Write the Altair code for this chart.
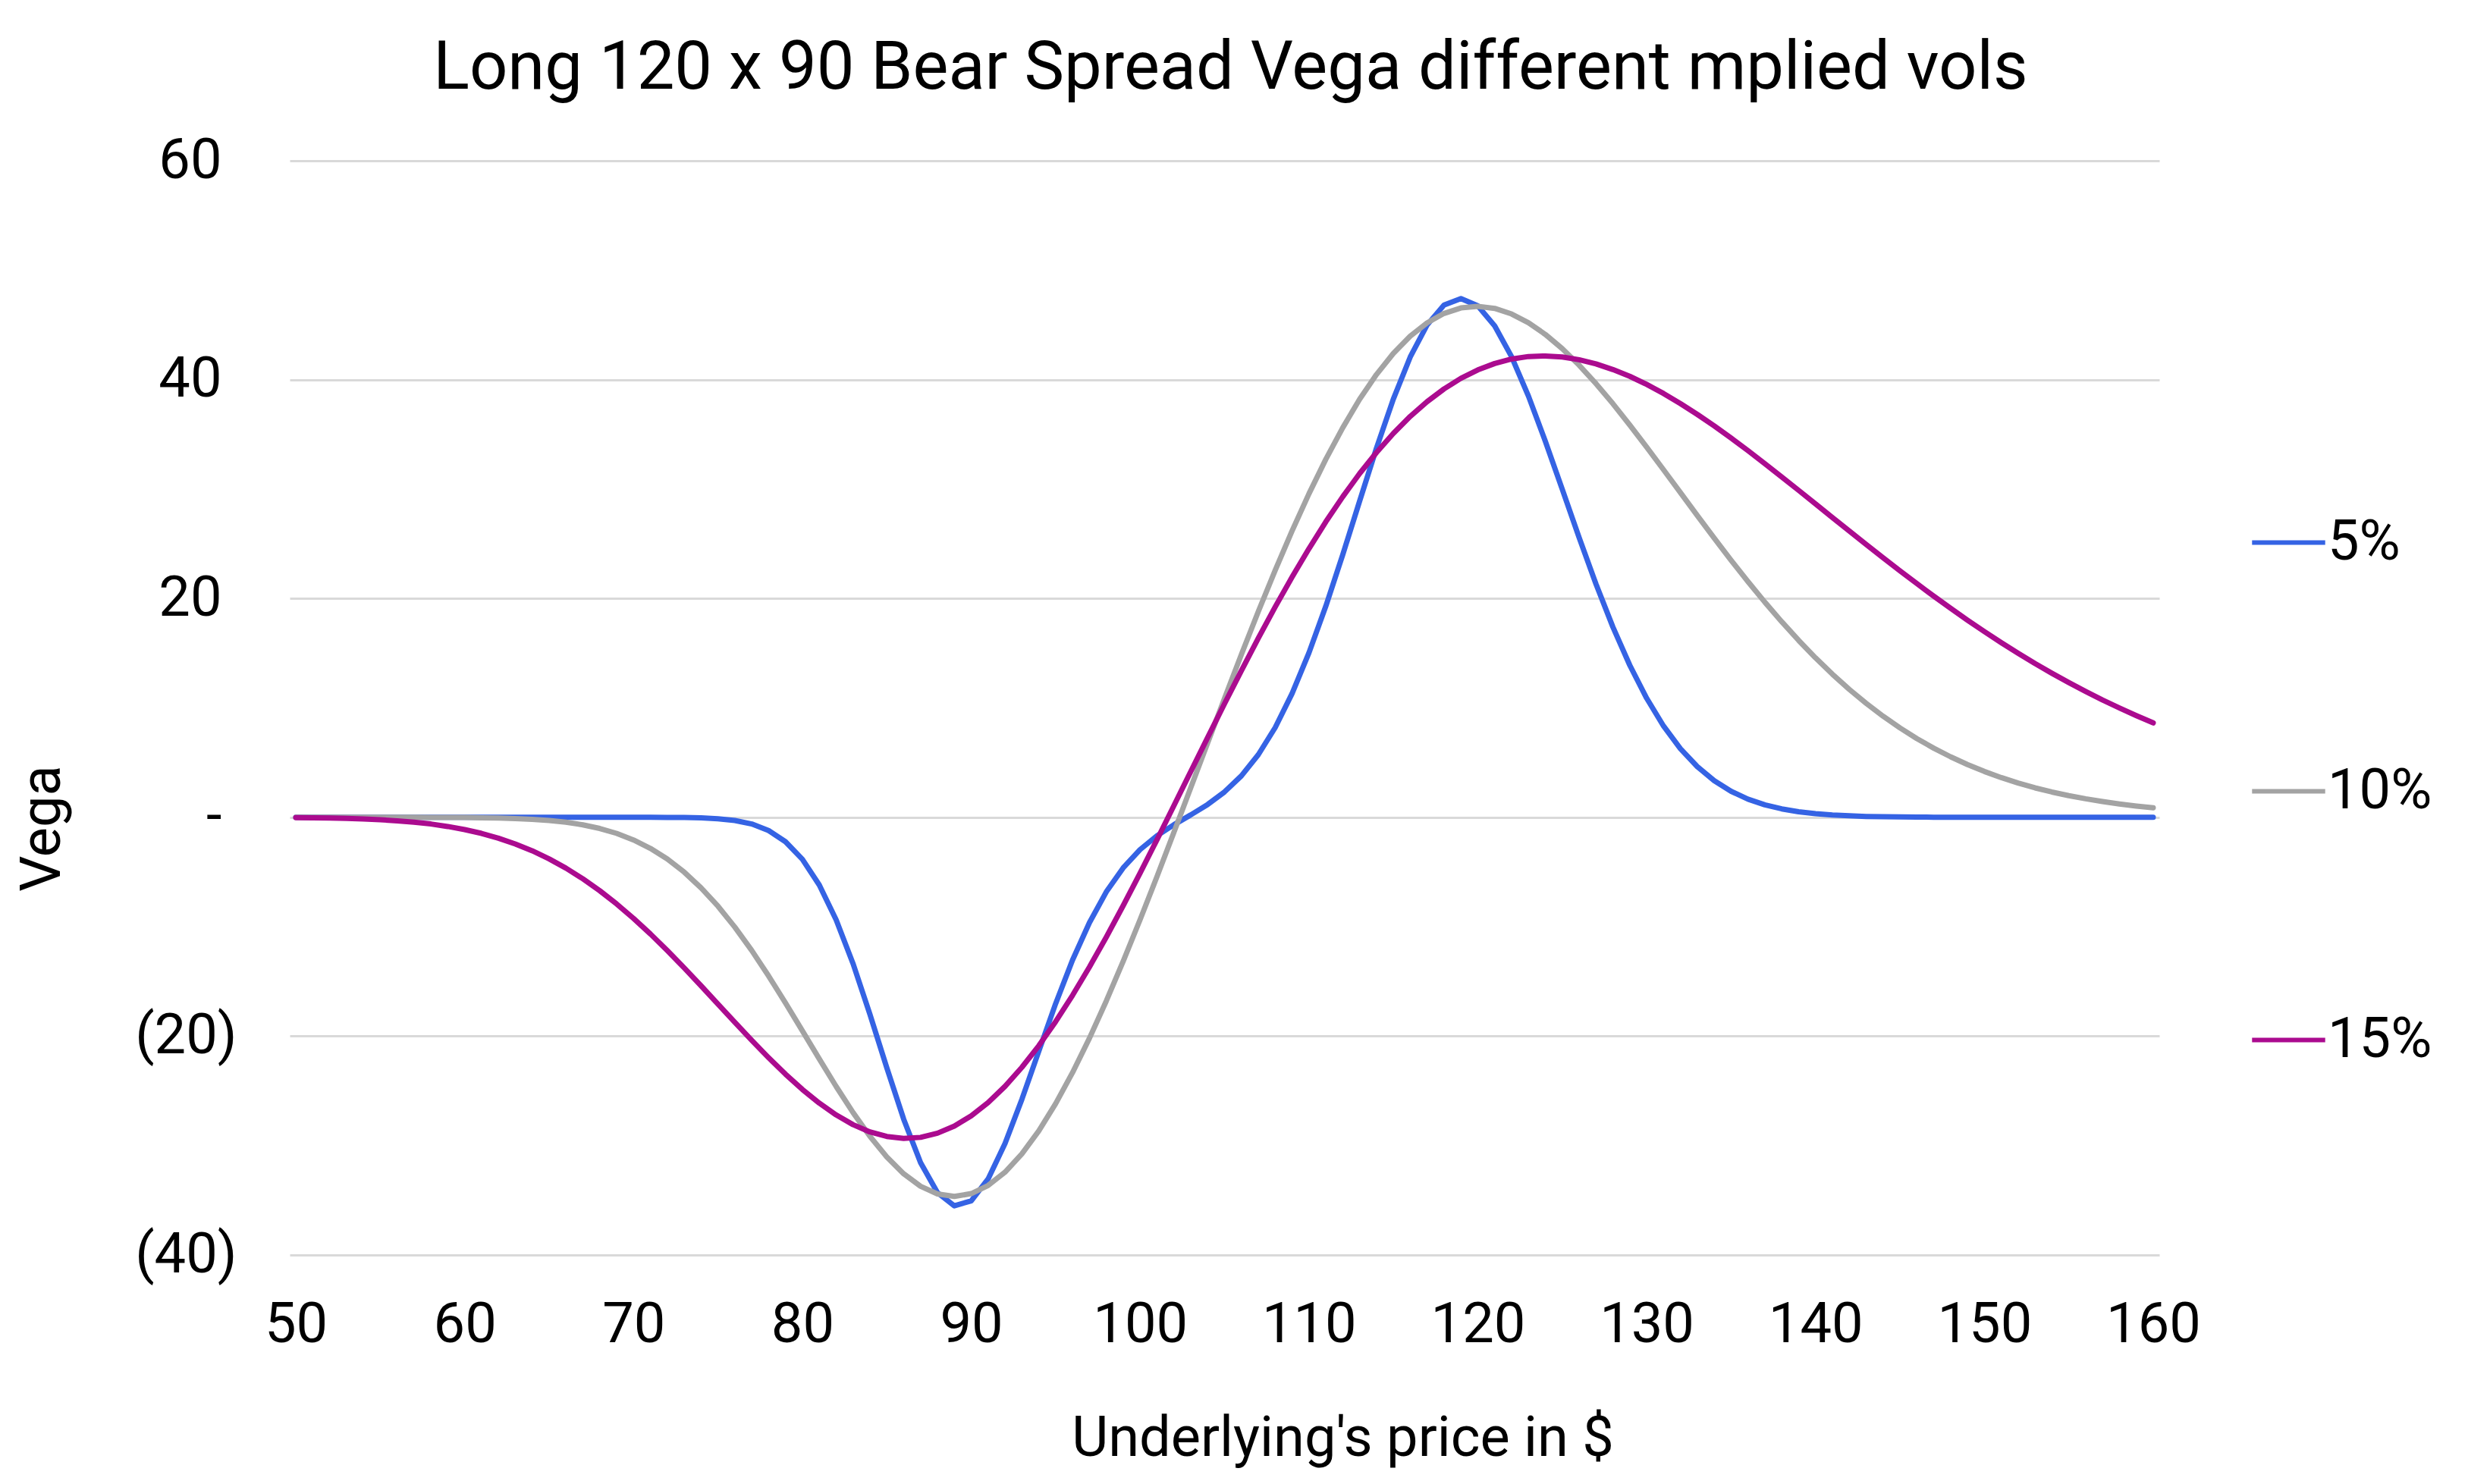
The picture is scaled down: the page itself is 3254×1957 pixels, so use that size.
import altair as alt
import pandas as pd

price = list(range(50, 161))

vega_5 = [
    0.0, 0.0, 0.0, 0.0, 0.0, 0.0, 0.0, 0.0, 0.0, 0.0,
    0.0, 0.0, 0.0, 0.0, 0.0, 0.0, 0.0, 0.0, 0.0, 0.0,
    0.0, 0.0, -0.01, -0.02, -0.05, -0.13, -0.29, -0.61, -1.21, -2.23,
    -3.83, -6.18, -9.37, -13.37, -18.00, -22.89, -27.59, -31.56, -34.30, -35.51,
    -35.05, -33.05, -29.82, -25.77, -21.38, -17.02, -13.04, -9.63, -6.81, -4.62,
    -2.95, -1.69, -0.68, 0.22, 1.17, 2.32, 3.79, 5.72, 8.20, 11.31,
    15.03, 19.30, 23.99, 28.89, 33.74, 38.23, 42.07, 45.00, 46.81, 47.40,
    46.74, 44.91, 42.09, 38.49, 34.36, 29.98, 25.56, 21.31, 17.39, 13.90,
    10.88, 8.34, 6.27, 4.63, 3.35, 2.38, 1.66, 1.14, 0.77, 0.51,
    0.33, 0.21, 0.14, 0.08, 0.05, 0.03, 0.02, 0.01, 0.0, 0.0,
    0.0, 0.0, 0.0, 0.0, 0.0, 0.0, 0.0, 0.0, 0.0, 0.0,
    0.0,
]

vega_10 = [
    0.0, 0.0, 0.0, 0.0, 0.0, 0.0, 0.0, 0.0, -0.01, -0.01,
    -0.02, -0.04, -0.06, -0.11, -0.18, -0.29, -0.45, -0.69, -1.02, -1.47,
    -2.07, -2.84, -3.81, -5.01, -6.45, -8.12, -10.04, -12.17, -14.50, -16.96,
    -19.51, -22.08, -24.60, -26.98, -29.15, -31.04, -32.58, -33.72, -34.42, -34.65,
    -34.39, -33.65, -32.43, -30.76, -28.66, -26.17, -23.33, -20.19, -16.78, -13.15,
    -9.35, -5.42, -1.39, 2.70, 6.80, 10.87, 14.88, 18.80, 22.57, 26.17,
    29.57, 32.72, 35.60, 38.20, 40.47, 42.40, 43.97, 45.19, 46.05, 46.55,
    46.69, 46.51, 46.00, 45.20, 44.13, 42.83, 41.32, 39.63, 37.80, 35.85,
    33.83, 31.76, 29.67, 27.58, 25.51, 23.49, 21.54, 19.66, 17.87, 16.17,
    14.57, 13.08, 11.69, 10.42, 9.24, 8.17, 7.19, 6.32, 5.53, 4.82,
    4.19, 3.63, 3.13, 2.69, 2.31, 1.98, 1.69, 1.44, 1.22, 1.03,
    0.87,
]

vega_15 = [
    -0.03, -0.04, -0.07, -0.10, -0.15, -0.22, -0.32, -0.44, -0.61, -0.84,
    -1.12, -1.47, -1.91, -2.44, -3.06, -3.80, -4.65, -5.62, -6.71, -7.92,
    -9.24, -10.66, -12.18, -13.76, -15.40, -17.07, -18.74, -20.38, -21.97, -23.48,
    -24.87, -26.12, -27.20, -28.09, -28.75, -29.17, -29.34, -29.25, -28.87, -28.22,
    -27.28, -26.07, -24.59, -22.85, -20.88, -18.67, -16.27, -13.68, -10.94, -8.07,
    -5.10, -2.05, 1.06, 4.18, 7.29, 10.38, 13.41, 16.37, 19.22, 21.95,
    24.55, 27.01, 29.29, 31.41, 33.34, 35.09, 36.64, 37.99, 39.15, 40.12,
    40.89, 41.47, 41.88, 42.11, 42.16, 42.07, 41.82, 41.44, 40.92, 40.30,
    39.56, 38.73, 37.81, 36.82, 35.77, 34.66, 33.51, 32.32, 31.11, 29.88,
    28.64, 27.40, 26.16, 24.94, 23.72, 22.53, 21.36, 20.21, 19.10, 18.01,
    16.97, 15.96, 14.99, 14.05, 13.16, 12.31, 11.50, 10.72, 9.99, 9.29,
    8.63,
]

series_names = ["5%", "10%", "15%"]
series_colors = ["#3563e4", "#a3a3a3", "#ab0b8f"]
x_ticks = [50, 60, 70, 80, 90, 100, 110, 120, 130, 140, 150, 160]
y_ticks = [-40, -20, 0, 20, 40, 60]

rows = []
for name, vals in zip(series_names, [vega_5, vega_10, vega_15]):
    for p, v in zip(price, vals):
        rows.append({"price": p, "vega": v, "vol": name})
df = pd.DataFrame(rows)

FONT = "Roboto"

x_enc = alt.X(
    "price:Q",
    scale=alt.Scale(domain=[49.64, 160.36], nice=False, zero=False),
    axis=alt.Axis(
        values=x_ticks,
        title="Underlying's price in $",
        grid=False,
        domain=False,
        ticks=False,
        labelFontSize=74,
        labelFont=FONT,
        labelColor="#000000",
        labelBaseline="alphabetic",
        labelPadding=114,
        labelFlush=False,
        labelOverlap=False,
        titleFont=FONT,
        titleFontSize=74,
        titleFontWeight="normal",
        titleColor="#000000",
        titleX=1388,
        titleY=264,
        titleAlign="center",
        titleBaseline="alphabetic",
    ),
)

y_enc = alt.Y(
    "vega:Q",
    scale=alt.Scale(domain=[-40, 60], nice=False),
    axis=alt.Axis(
        values=y_ticks,
        title="Vega",
        grid=True,
        gridColor="#d9d9d9",
        gridWidth=3,
        domain=False,
        ticks=False,
        labelFontSize=74,
        labelFont=FONT,
        labelColor="#000000",
        labelPadding={"condition": {"test": "datum.value < 0", "value": 70}, "value": 90},
        labelOverlap=False,
        labelExpr="datum.value > 0 ? datum.label : (datum.value == 0 ? '-' : '(' + format(-datum.value, 'd') + ')')",
        titleFont=FONT,
        titleFontSize=74,
        titleFontWeight="normal",
        titleColor="#000000",
        titleX=-326,
        titleY=880,
        titleAlign="center",
        titleBaseline="middle",
        titleAngle=270,
    ),
)

color_enc = alt.Color(
    "vol:N",
    scale=alt.Scale(domain=series_names, range=series_colors),
    legend=alt.Legend(
        title=None,
        orient="none",
        legendX=2584,
        legendY=452,
        symbolType="stroke",
        symbolSize=9300,
        symbolStrokeWidth=6,
        labelFont=FONT,
        labelFontSize=74,
        labelColor="#000000",
        labelOffset=0,
        rowPadding=239,
        direction="vertical",
    ),
)

layers = []
for name in series_names:
    layers.append(
        alt.Chart(df)
        .transform_filter(alt.datum.vol == name)
        .mark_line(strokeWidth=7, strokeCap="round", strokeJoin="round")
        .encode(x=x_enc, y=y_enc, color=color_enc)
    )

chart = (
    alt.layer(*layers)
    .properties(
        width=2465,
        height=1443,
        title=alt.TitleParams(
            text="Long 120 x 90 Bear Spread Vega different mplied vols",
            font=FONT,
            fontSize=88.5,
            fontWeight="normal",
            color="#000000",
            anchor="middle",
            offset=40,
            dx=8,
        ),
        autosize=alt.AutoSizeParams(type="none"),
        padding={"left": 374, "top": 204, "right": 385, "bottom": 288},
        background="#ffffff",
    )
    .configure_view(stroke=None)
)

chart.save("out.html", embed_options={"renderer": "svg", "actions": False})
